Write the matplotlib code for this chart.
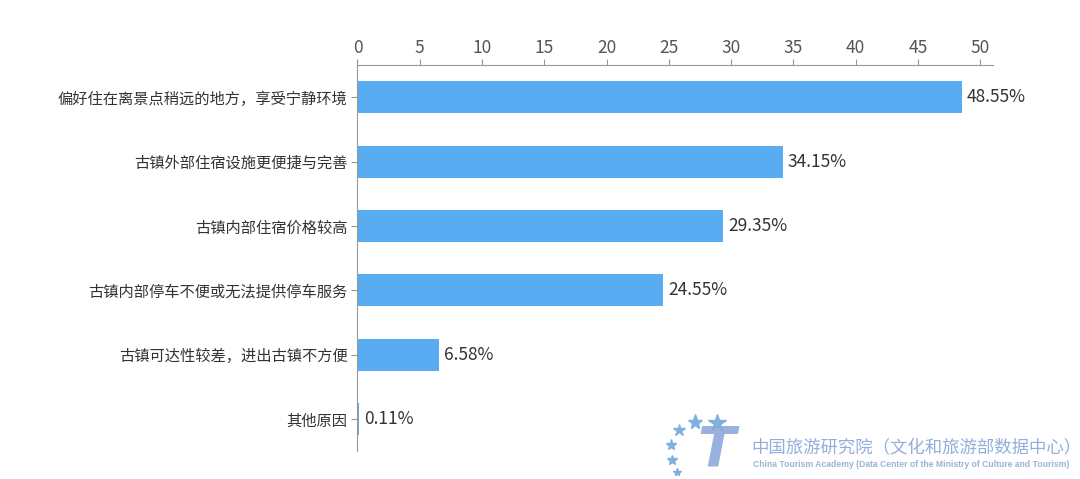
import matplotlib
matplotlib.use("Agg")
import matplotlib.pyplot as plt

plt.rcParams['font.family'] = ['Noto Sans CJK SC', 'DejaVu Sans']

# 数据
categories = ["偏好住在离景点稍远的地方，享受宁静环境",
              "古镇外部住宿设施更便捷与完善",
              "古镇内部住宿价格较高",
              "古镇内部停车不便或无法提供停车服务",
              "古镇可达性较差，进出古镇不方便",
              "其他原因"]
values = [48.55, 34.15, 29.35, 24.55, 6.58, 0.11]
xticks = [0, 5, 10, 15, 20, 25, 30, 35, 40, 45, 50]

fig = plt.figure(figsize=(10.8, 4.79), dpi=100)
ax = fig.add_axes([0.331, 0.058, 0.588, 0.806])

y = list(range(len(categories)))
ax.barh(y, values, height=0.5, color="#5AACF2", zorder=2)
for yi, v in zip(y, values):
    ax.text(v + 0.4, yi, f"{v:.2f}%", va="center", ha="left", fontsize=12.5, color="#333333")

ax.set_xlim(0, 51)
ax.set_ylim(len(categories) - 0.5, -0.5)
ax.set_yticks(y)
ax.set_yticklabels(categories, fontsize=11, color="#333333")
ax.set_xticks(xticks)
ax.xaxis.tick_top()
ax.tick_params(axis="x", labelsize=12.5, colors="#555555", length=4, color="#999999", pad=2)
ax.tick_params(axis="y", length=4, color="#999999", pad=3)
for s in ["right", "bottom"]:
    ax.spines[s].set_visible(False)
for s in ["top", "left"]:
    ax.spines[s].set_color("#999999")

# 水印 logo (星星 + T)
stars = [(679, 430, 9), (695, 422, 11), (717, 423, 13), (671, 445, 8), (672, 460, 7), (677, 472, 6)]
for sx, sy, ms in stars:
    fig.add_artist(plt.Line2D([sx / 1080], [1 - sy / 479], marker="*", markersize=ms,
                              color="#7FB0E0", transform=fig.transFigure, linestyle="none"))
fig.text(0.663, 0.004, "T", fontsize=40, fontstyle="italic", fontweight="bold",
         color="#8EA9DA", family="DejaVu Sans", ha="center", va="bottom", alpha=0.9)
fig.text(0.696, 0.067, "中国旅游研究院（文化和旅游部数据中心）", fontsize=12.5,
         color="#93AEDD", ha="left", va="center")
fig.text(0.697, 0.031, "China Tourism Academy (Data Center of the Ministry of Culture and Tourism)",
         fontsize=6.2, color="#9DB2D6", fontweight="bold", family="Liberation Sans", ha="left", va="center")

fig.savefig("out.png", dpi=100)
